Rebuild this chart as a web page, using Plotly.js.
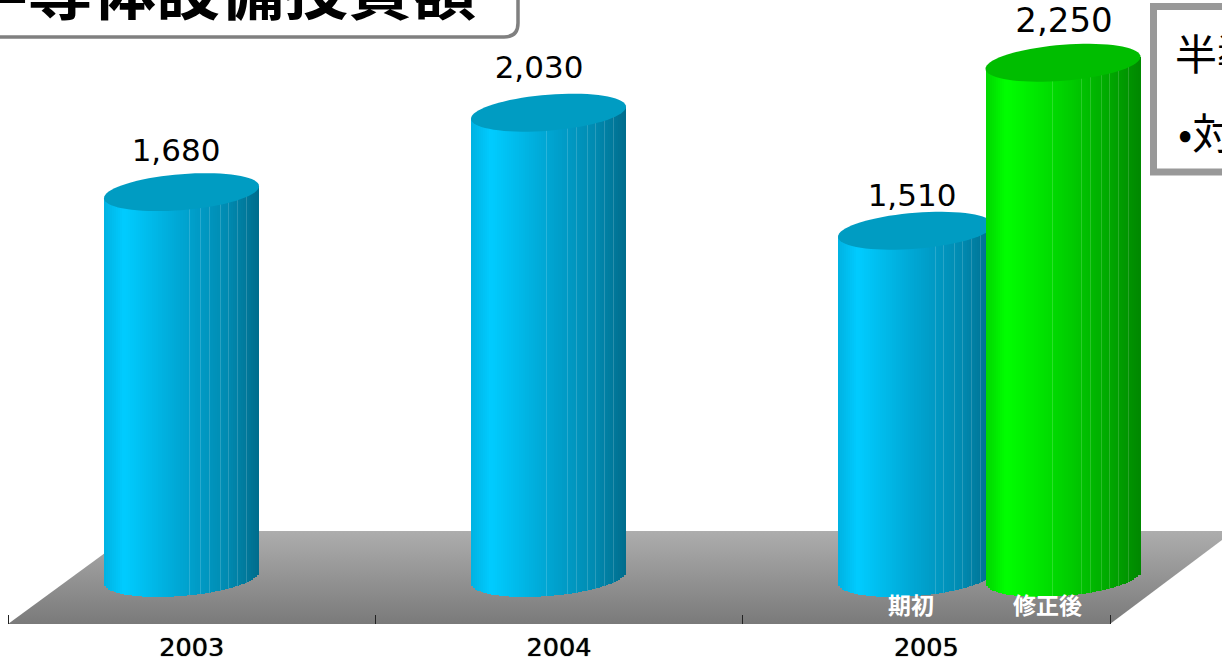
<!DOCTYPE html>
<html><head><meta charset="utf-8">
<script src="https://cdn.plot.ly/plotly-3.0.1.min.js"></script>
<style>html,body{margin:0;padding:0;background:#fff;overflow:hidden}#c{width:1222px;height:661px}</style>
</head><body><div id="c"></div>
<script>
// ---- data ----
const years = ['2003', '2004', '2005'];
const barNames = ['2003', '2004', '2005 期初', '2005 修正後'];
const barValues = [1680, 2030, 1510, 2250];
const subLabels = ['期初', '修正後'];
const titleText = '半導体設備投資額';
const noteLines = ['半導体', '•対策'];

// ---- scale helpers ----
const PX_PER_CAT = 1102 / 3, PX_PER_UNIT = 0.227, ZERO_PX = 573.5, LEFT = 8, AXIS_PX = 624, PLOT_W = 1214;
const xu = p => (p - LEFT) / PX_PER_CAT;
const yv = p => (ZERO_PX - p) / PX_PER_UNIT;
const fx = p => (p - LEFT) / PLOT_W;       // paper coords
const fy = p => (AXIS_PX - p) / 624;

const BLUE = [[0,[0,178,226]],[.13,[0,204,255]],[.55,[0,160,204]],[.8,[0,138,176]],[1,[0,108,140]]];
const GREEN = [[0,[0,214,0]],[.13,[0,255,0]],[.55,[0,204,0]],[.8,[0,168,0]],[1,[0,136,0]]];
function ramp(st, u) {
  for (let i = 1; i < st.length; i++) if (u <= st[i][0]) {
    const t = (u - st[i-1][0]) / (st[i][0] - st[i-1][0]);
    const c = st[i-1][1].map((v, k) => Math.round(v + (st[i][1][k] - v) * t));
    return `rgb(${c})`;
  }
  return `rgb(${st[st.length-1][1]})`;
}
const WIDTH_PX = 155, STRIPS = 77, CAP_B = 18, SHEAR = 6, BASE_B = 18.5, BASE_OFF = 4;
const centres = [181.5, 548.5, 915.5, 1063];
const seams = [[.55,.62,.68,.75,.8,.86,.92],[.49,.62,.68,.75,.8,.86,.92],[.63,.68,.75,.8,.86,.92],[.43,.62,.68,.75,.8,.86,.92]];

function edges(u) {             // u in 0..1 across the cylinder
  const t = 2 * u - 1;
  const shear = -SHEAR * t;     // px, up at the right
  return {shear, low: BASE_OFF + shear + BASE_B * Math.sqrt(Math.max(0, 1 - t * t))};
}
function stripTrace(i, us, colorOf, widthPx, z) {
  const x = [], base = [], y = [], col = [];
  us.forEach(u => {
    const e = edges(u);
    const top = barValues[i] - e.shear / PX_PER_UNIT;
    const bot = -e.low / PX_PER_UNIT;
    x.push(xu(centres[i] - WIDTH_PX / 2 + u * WIDTH_PX));
    base.push(bot); y.push(top - bot); col.push(colorOf(u));
  });
  return {type:'bar', x, y, base, width: widthPx / PX_PER_CAT, zorder:z,
    marker:{color:col, line:{width:0}}, hoverinfo:'skip', showlegend:false};
}
function capTrace(i, color, z) {
  const x = [], y = [];
  for (let k = 0; k <= 72; k++) {
    const a = k / 72 * 2 * Math.PI;
    const c = Math.cos(a), s = Math.sin(a);
    x.push(xu(centres[i] + WIDTH_PX / 2 * c));
    y.push(barValues[i] - (-SHEAR * c + CAP_B * s) / PX_PER_UNIT);
  }
  return {type:'scatter', mode:'none', x, y, fill:'toself', fillcolor:color, zorder:z,
    hoverinfo:'skip', showlegend:false};
}

const traces = [];
// floor
traces.push({type:'scatter', mode:'none', showlegend:false, hoverinfo:'skip', zorder:0,
  x:[xu(8), xu(1110), xu(1234), xu(135), xu(8)],
  y:[yv(624), yv(624), yv(531), yv(531), yv(624)],
  fill:'toself',
  fillgradient:{type:'vertical', colorscale:[[0,'#7a7a7a'],[1,'#adadad']]}
});
barValues.forEach((v, i) => {
  const st = i === 3 ? GREEN : BLUE;
  const z = i === 3 ? 2 : 1;
  const us = Array.from({length:STRIPS}, (_, k) => (k + .5) / STRIPS);
  traces.push(stripTrace(i, us, u => ramp(st, u), WIDTH_PX / STRIPS, z));
  traces.push(stripTrace(i, seams[i], () => 'rgba(255,255,255,0.16)', 1, z));
  traces.push(capTrace(i, i === 3 ? '#00bd00' : '#009cc2', z));
});
// value labels
const labelX = [176, 539, 912, 1064];
const labelY = [153, 70, 198, 23];
const labelSize = [31, 31, 31, 34];
traces.push({type:'scatter', mode:'text', showlegend:false, hoverinfo:'skip', zorder:3,
  x: labelX.map(xu), y: labelY.map(yv),
  text: barValues.map(v => v.toLocaleString('en-US')),
  textposition:'middle center',
  textfont:{family:'DejaVu Sans', size:labelSize, color:'#000'}
});
// sub category labels on the floor
traces.push({type:'scatter', mode:'text', showlegend:false, hoverinfo:'skip', zorder:3,
  x:[xu(911), xu(1047.5)], y:[yv(608), yv(608)], text:subLabels,
  textposition:'middle center',
  textfont:{family:'Noto Sans CJK JP', size:23, color:'#fff', weight:'bold'}
});
// carrier so the category axis is drawn
traces.push({type:'scatter', mode:'none', x:[0,3], y:[0,0], xaxis:'x2', yaxis:'y', showlegend:false, hoverinfo:'skip'});

const layout = {
  width:1222, height:661, autosize:false, showlegend:false, bargap:0, barmode:'overlay',
  margin:{l:8, r:0, t:0, b:37, pad:0},
  paper_bgcolor:'#fff', plot_bgcolor:'rgba(0,0,0,0)',
  xaxis:{type:'linear', domain:[0,1], range:[0, PLOT_W / PX_PER_CAT], visible:false, showgrid:false, zeroline:false},
  xaxis2:{type:'linear', domain:[0,1102 / PLOT_W], anchor:'y', range:[0,3], tickmode:'array', tickvals:[.5,1.5,2.5], ticktext:years,
    ticks:'', showgrid:false, zeroline:false, showline:true, linecolor:'#222', linewidth:1,
    tickfont:{family:'DejaVu Sans', size:25.5, color:'#000', shadow:'0 0 1px #000'}, automargin:false,
    minor:{tickmode:'array', tickvals:[0,1,2,3], ticks:'inside', ticklen:9, tickcolor:'#222', tickwidth:1, showgrid:false}},
  yaxis:{range:[yv(624), yv(0)], visible:false, showgrid:false, zeroline:false},
  shapes:[
    {type:'path', xref:'paper', yref:'paper', layer:'above',
     path:`M ${fx(-10)} ${fy(37)} L ${fx(504)} ${fy(37)} Q ${fx(518)} ${fy(37)} ${fx(518)} ${fy(23)} L ${fx(518)} ${fy(-10)}`,
     line:{color:'#808080', width:3.5}},
    {type:'rect', xref:'paper', yref:'paper', layer:'above',
     x0:fx(1153.5), x1:fx(1260), y0:fy(172), y1:fy(6.5),
     fillcolor:'#fff', line:{color:'#999999', width:7}}
  ],
  annotations:[
    {xref:'paper', yref:'paper', x:fx(220), y:fy(-14), text:'<b>'+titleText+'</b>', showarrow:false,
     xanchor:'center', yanchor:'middle', font:{family:'Noto Sans CJK JP', size:64, color:'#000'}},
    {xref:'paper', yref:'paper', x:fx(1173), y:fy(51), text:noteLines[0], showarrow:false, align:'left',
     xanchor:'left', yanchor:'middle', font:{family:'Noto Sans CJK JP', size:42, color:'#000'}},
    {xref:'paper', yref:'paper', x:fx(1176), y:fy(130), text:noteLines[1], showarrow:false, align:'left',
     xanchor:'left', yanchor:'middle', font:{family:'Noto Sans CJK JP', size:42, color:'#000'}}
  ]
};
Plotly.newPlot('c', traces, layout, {displayModeBar:false, staticPlot:true});
</script></body></html>
